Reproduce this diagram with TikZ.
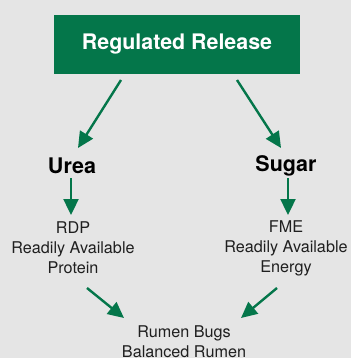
\documentclass[tikz,border=0pt]{standalone}
\usepackage{fontspec}
\setmainfont{TeX Gyre Heros}
\usetikzlibrary{arrows.meta}
\definecolor{bggray}{RGB}{229,229,229}
\definecolor{dkgreen}{RGB}{4,118,74}
\tikzset{
  arr/.style={draw=dkgreen, line width=2.4pt, -{Triangle[length=16pt,width=15pt]}},
  head/.style={font=\fontsize{21.5}{24}\selectfont\bfseries, text=black, inner sep=0pt},
  body/.style={font=\fontsize{16.2}{20}\selectfont, text=black!88, align=center, inner sep=0pt},
}
\begin{document}
\begin{tikzpicture}[x=1pt,y=-1pt]
\fill[bggray] (0,0) rectangle (351,358);
\useasboundingbox (0,0) rectangle (351,358);
\node[fill=dkgreen, minimum width=246pt, minimum height=59pt, inner sep=0pt,
      text=white, font=\fontsize{21.4}{24}\selectfont\bfseries] (top) at (177,44.5) {Regulated Release};
\node[head] (urea) at (72,165.5) {Urea};
\node[head] (sugar) at (286,165.5) {Sugar};
\node[body] (rdp) at (73,248) {RDP\\Readily Available\\Protein};
\node[body] (fme) at (286,248) {FME\\Readily Available\\Energy};
\node[body] (rumen) at (184,342) {Rumen Bugs\\Balanced Rumen};
\coordinate (a1s) at (121,80);  \coordinate (a1e) at (78,148);
\coordinate (a2s) at (237,80);  \coordinate (a2e) at (281,148);
\coordinate (a3s) at (71,178);  \coordinate (a3e) at (71,215);
\coordinate (a4s) at (288,178); \coordinate (a4e) at (288,215);
\coordinate (a5s) at (87,288);  \coordinate (a5e) at (124,318);
\coordinate (a6s) at (277,288); \coordinate (a6e) at (241,318);
\draw[arr] (a1s) -- (a1e);
\draw[arr] (a2s) -- (a2e);
\draw[arr] (a3s) -- (a3e);
\draw[arr] (a4s) -- (a4e);
\draw[arr] (a5s) -- (a5e);
\draw[arr] (a6s) -- (a6e);
\end{tikzpicture}
\end{document}
